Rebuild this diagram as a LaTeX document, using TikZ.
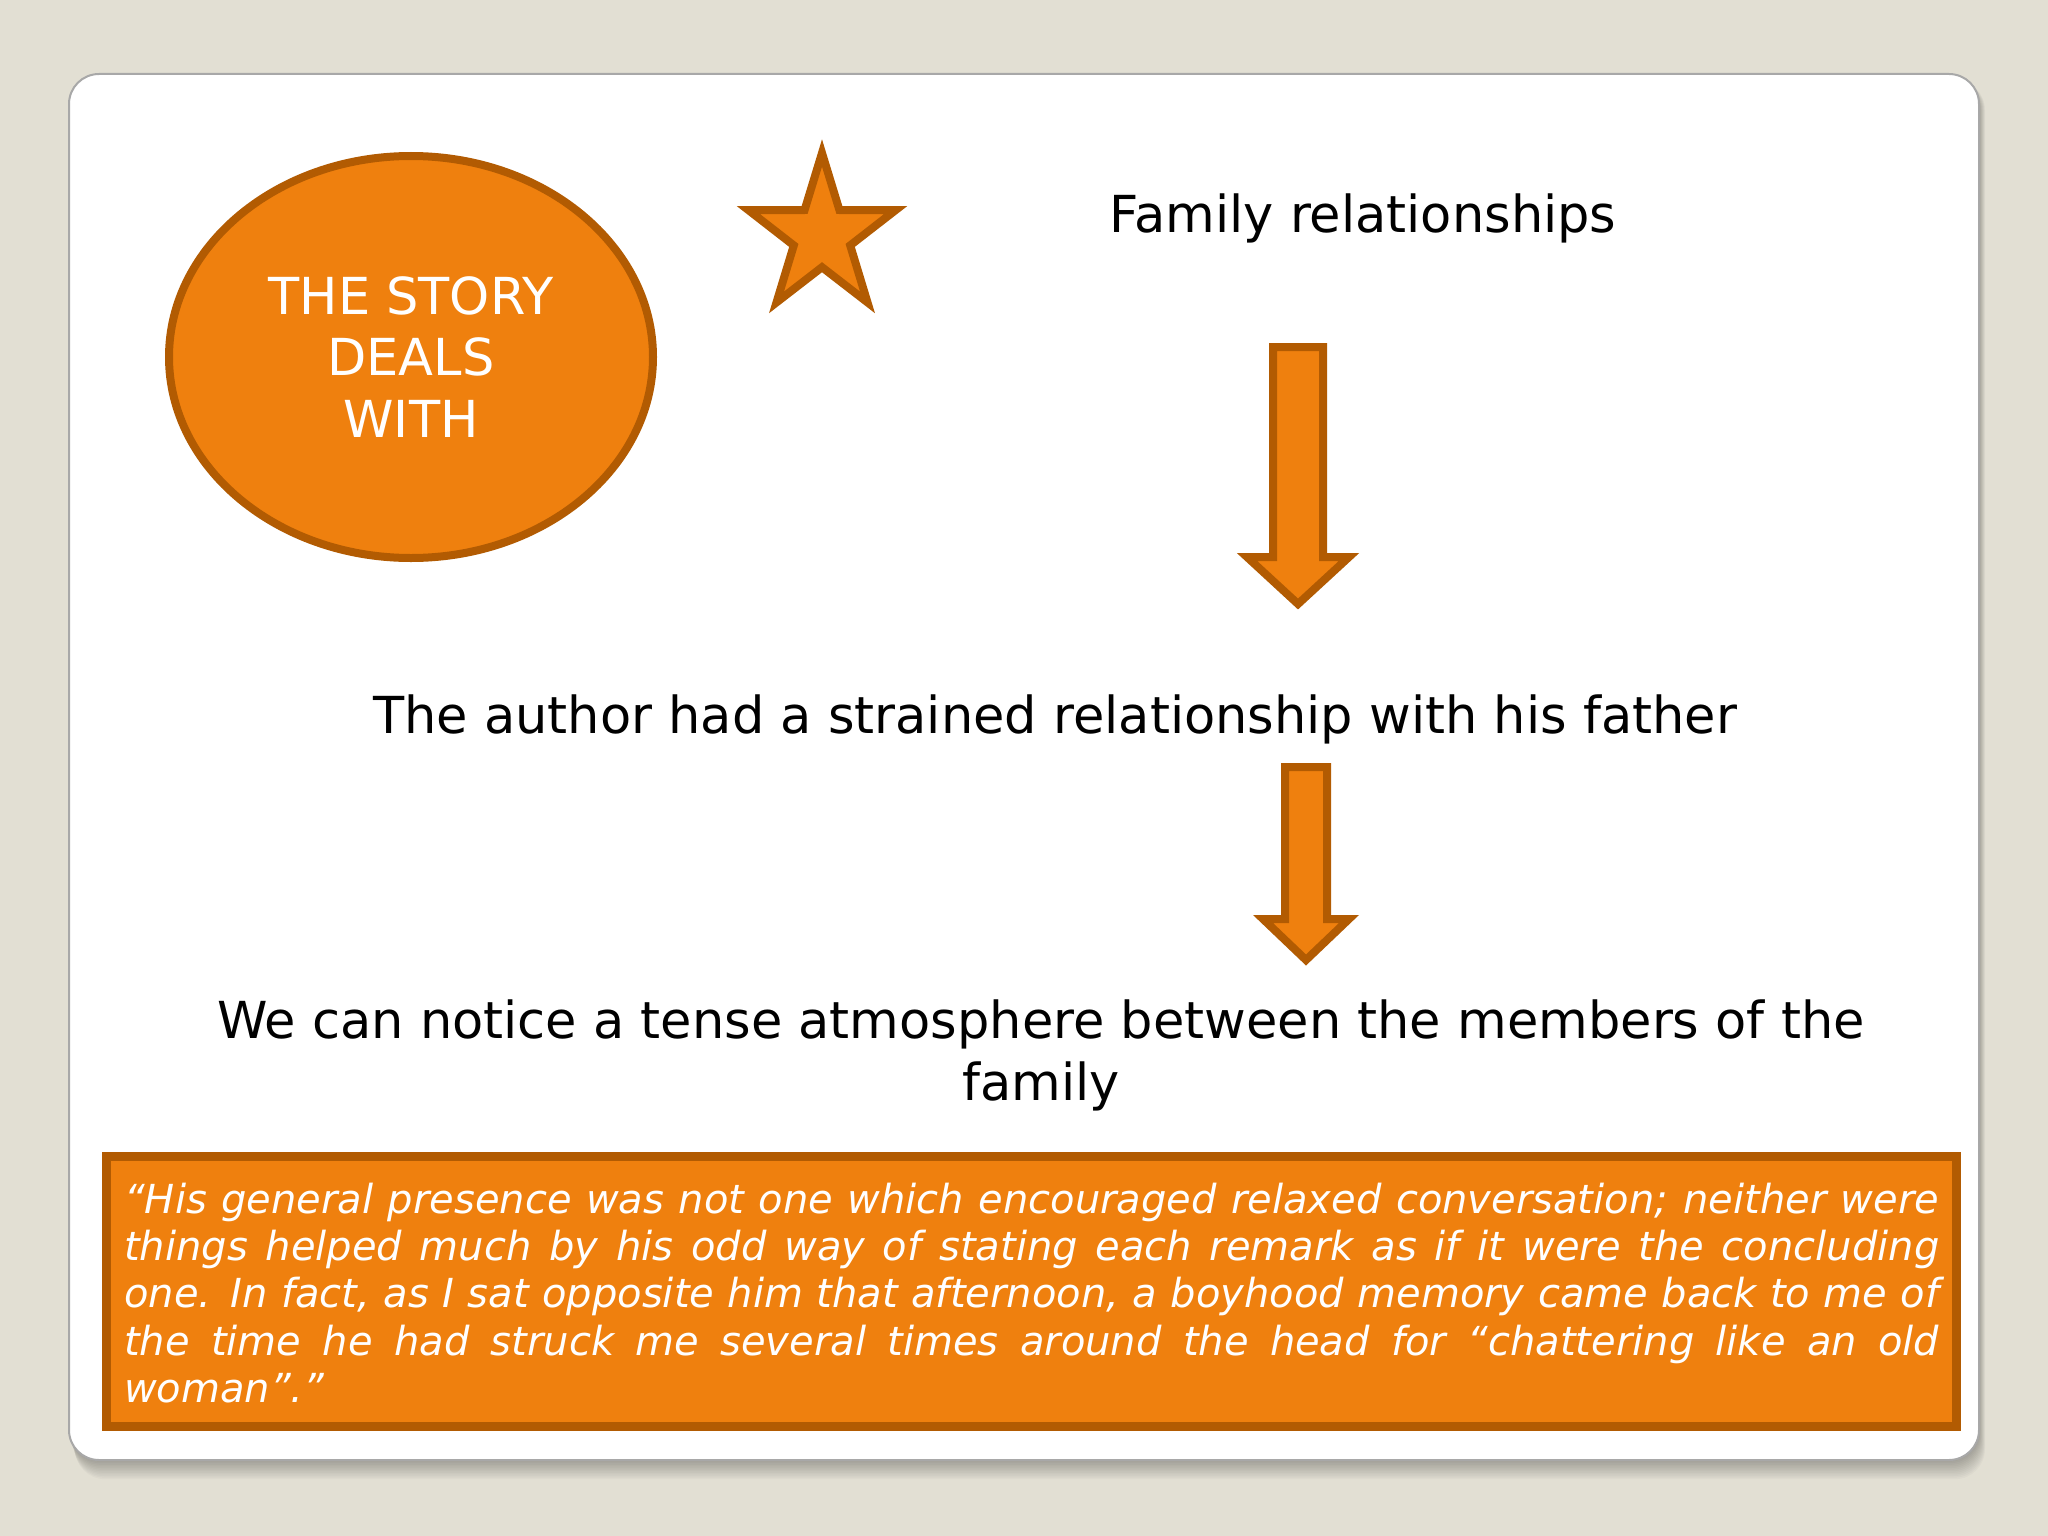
\documentclass[tikz,border=0pt]{standalone}
\usepackage{fontspec}
\setmainfont{DejaVu Sans}
\usetikzlibrary{shapes.geometric}
\definecolor{bgcol}{RGB}{226,223,211}
\definecolor{orfill}{RGB}{239,128,14}
\definecolor{ordark}{RGB}{178,91,2}
\definecolor{cardedge}{RGB}{168,168,168}
\tikzset{
  bodytxt/.style={font=\fontsize{51}{61.5}\selectfont, text=black, inner sep=0, anchor=base},
  quotetxt/.style={font=\fontsize{40}{47}\selectfont\itshape, text=white, inner sep=0, anchor=base west},
  orangeshape/.style={fill=orfill, draw=ordark, line width=8, line join=miter},
}
\begin{document}
\begin{tikzpicture}[x=1pt,y=-1pt]
\fill[bgcol] (0,0) rectangle (2048,1536);
\useasboundingbox (0,0) rectangle (2048,1536);
% card shadow
\foreach \k in {1,...,12}
  \fill[black, opacity=0.022, rounded corners=30] (69+0.5*\k,80) rectangle (1979+0.5*\k,1460+1.6*\k);
% card
\filldraw[fill=white, draw=cardedge, line width=2, rounded corners=30] (69,74) rectangle (1979,1460);

% ellipse
\node[ellipse, orangeshape, minimum width=484, minimum height=402, inner sep=0,
      text=white, align=center, font=\fontsize{51}{61.5}\selectfont] (story) at (411,357)
      {THE STORY\\DEALS\\WITH};

% star
\filldraw[orangeshape] (822,153) -- (839.4,210.0) -- (895.6,210.1) -- (850.2,245.4)
  -- (867.5,302.4) -- (822,267.2) -- (776.5,302.4) -- (793.8,245.4)
  -- (748.4,210.1) -- (804.6,210.0) -- cycle;

% texts
\node[bodytxt] (family) at (1363,232) {Family relationships};
\node[bodytxt] (author) at (1055,733) {The author had a strained relationship with his father};
\node[bodytxt] (tenseA) at (1041,1038) {We can notice a tense atmosphere between the members of the};
\node[bodytxt] (tenseB) at (1041,1100) {family};

% block arrows
\filldraw[orangeshape] (1273,347) -- (1323,347) -- (1323,557) -- (1349,557) -- (1298,604)
  -- (1247,557) -- (1273,557) -- cycle;
\filldraw[orangeshape] (1285,767) -- (1327,767) -- (1327,919) -- (1349,919) -- (1306,960)
  -- (1263,919) -- (1285,919) -- cycle;

% quote box
\node[draw=ordark, fill=orfill, line width=9, minimum width=1850, minimum height=270,
      inner sep=0, outer sep=0, anchor=north west] (quotebox) at (106.5,1156.5) {};
\node[quotetxt] (q1) at (124,1213) {\makebox[1815pt][s]{“His general presence was not one which encouraged relaxed conversation; neither were}};
\node[quotetxt] (q2) at (124,1260) {\makebox[1815pt][s]{things helped much by his odd way of stating each remark as if it were the concluding}};
\node[quotetxt] (q3) at (124,1307) {\makebox[1815pt][s]{one. In fact, as I sat opposite him that afternoon, a boyhood memory came back to me of}};
\node[quotetxt] (q4) at (124,1355) {\makebox[1815pt][s]{the time he had struck me several times around the head for “chattering like an old}};
\node[quotetxt] (q5) at (124,1402) {woman”.”};
\end{tikzpicture}
\end{document}
